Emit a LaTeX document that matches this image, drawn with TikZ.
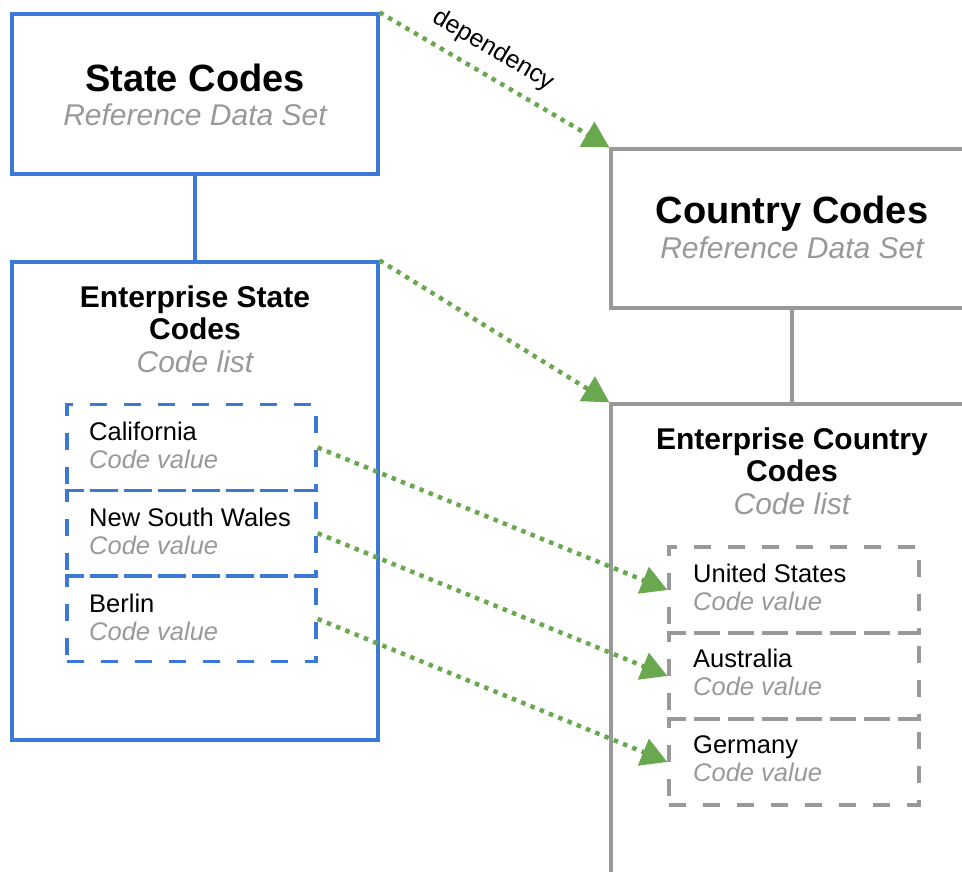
\documentclass[tikz,border=0pt]{standalone}
\usepackage{fontspec}
\setmainfont{Liberation Sans}
\usetikzlibrary{arrows.meta}
\definecolor{gblue}{HTML}{3C78D8}
\definecolor{ggray}{HTML}{999999}
\definecolor{ggreen}{HTML}{6AA84F}
\tikzset{
  bluebox/.style={draw=gblue, line width=3.2pt, rectangle, inner sep=0pt},
  graybox/.style={draw=ggray, line width=3.2pt, rectangle, inner sep=0pt},
  bluerow/.style={draw=gblue, line width=3.2pt, dash pattern=on 17pt off 17pt, rectangle, inner sep=0pt},
  grayrow/.style={draw=ggray, line width=3.2pt, dash pattern=on 17pt off 17pt, rectangle, inner sep=0pt},
  bigtitle/.style={font=\fontsize{38}{40}\selectfont\bfseries, anchor=base, inner sep=0pt},
  midtitle/.style={font=\fontsize{30}{32}\selectfont\bfseries, anchor=base, inner sep=0pt},
  subtitle/.style={font=\fontsize{30}{32}\selectfont\itshape, text=ggray, anchor=base, inner sep=0pt},
  rowname/.style={font=\fontsize{25.5}{28}\selectfont, anchor=base west, inner sep=0pt},
  rowsub/.style={font=\fontsize{25.5}{28}\selectfont\itshape, text=ggray, anchor=base west, inner sep=0pt},
  dep/.style={draw=ggreen, line width=4.5pt, dash pattern=on 4.5pt off 5.5pt,
    -{Triangle[length=26pt,width=28pt,fill=ggreen]}},
  deplab/.style={font=\fontsize{25}{27}\selectfont, text=black, sloped, above=9pt, inner sep=2pt},
  link/.style={line width=3.2pt},
}
\begin{document}
\begin{tikzpicture}[x=1pt,y=-1pt]
\useasboundingbox (0,0) rectangle (962,871);
\clip (0,0) rectangle (962,871);
% left side
\node[bluebox, minimum width=366pt, minimum height=160pt] (sc) at (195,94) {};
\node[bluebox, minimum width=366pt, minimum height=478pt] (es) at (195,501) {};
\draw[link, draw=gblue] (sc.south) -- (es.north);
\node[bigtitle] (sct) at (195,91) {State Codes};
\node[subtitle] (scs) at (195,125) {Reference Data Set};
\node[midtitle] (est1) at (195,307) {Enterprise State};
\node[midtitle] (est2) at (195,339) {Codes};
\node[subtitle] (ess) at (195,372) {Code list};
% state rows
\node[bluerow, minimum width=249pt, minimum height=85.7pt] (r1) at (191.5,447.5) {};
\node[bluerow, minimum width=249pt, minimum height=85.7pt] (r2) at (191.5,533.2) {};
\node[bluerow, minimum width=249pt, minimum height=85.7pt] (r3) at (191.5,618.9) {};
\node[rowname] (r1a) at (89,440) {California};
\node[rowsub] (r1b) at (89,468) {Code value};
\node[rowname] (r2a) at (89,526) {New South Wales};
\node[rowsub] (r2b) at (89,554) {Code value};
\node[rowname] (r3a) at (89,612) {Berlin};
\node[rowsub] (r3b) at (89,640) {Code value};
% right side
\node[graybox, minimum width=362pt, minimum height=159pt] (cc) at (792,228.5) {};
\node[graybox, minimum width=362pt, minimum height=500pt] (ec) at (792,654) {};
\draw[link, draw=ggray] (cc.south) -- (ec.north);
\node[bigtitle] (cct) at (792,223) {Country Codes};
\node[subtitle] (ccs) at (792,258) {Reference Data Set};
\node[midtitle] (ect1) at (792,449) {Enterprise Country};
\node[midtitle] (ect2) at (792,481) {Codes};
\node[subtitle] (ecs) at (792,514) {Code list};
% country rows
\node[grayrow, minimum width=250pt, minimum height=86pt] (c1) at (794,590) {};
\node[grayrow, minimum width=250pt, minimum height=86pt] (c2) at (794,676) {};
\node[grayrow, minimum width=250pt, minimum height=86pt] (c3) at (794,762) {};
\node[rowname] (c1a) at (693,582) {United States};
\node[rowsub] (c1b) at (693,610) {Code value};
\node[rowname] (c2a) at (693,667) {Australia};
\node[rowsub] (c2b) at (693,695) {Code value};
\node[rowname] (c3a) at (693,753) {Germany};
\node[rowsub] (c3b) at (693,781) {Code value};
% dependencies
\draw[dep] (sc.north east) -- node[pos=0.44, deplab] (deplabel) {dependency} (cc.north west);
\draw[dep] (es.north east) -- (ec.north west);
\draw[dep] (r1.east) -- (c1.west);
\draw[dep] (r2.east) -- (c2.west);
\draw[dep] (r3.east) -- (c3.west);
\end{tikzpicture}
\end{document}
